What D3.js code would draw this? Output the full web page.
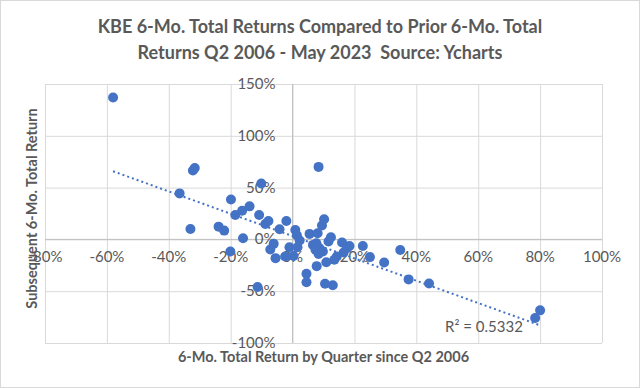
<!DOCTYPE html>
<html>
<head>
<meta charset="utf-8">
<script src="https://cdn.jsdelivr.net/npm/d3@7"></script>
<style>
  body { margin: 0; background: #fff; }
  text { font-family: Lato, "Open Sans", sans-serif; fill: #595959; white-space: pre; }
</style>
</head>
<body>
<svg id="chart" width="640" height="388"></svg>
<script>
// prior 6-month total return (%) -> subsequent 6-month total return (%)
const priorReturns = [
  -58, -32.2, -31.6, -36.5, -33, -19.9, -18.5, -16.3, -13.9, -10.1,
  -10.8, -8.8, -7.8, -2.0, -4.2, -23.9, -22.1, -16, -20.1, -7.2,
  -6.1, -5.5, -2.4, -1.0, -11.3,
  0.9, 1.4, 2.3, 1.6, 0.3, 5.5, 8.1, 9.5, 10.2, 8.4,
  6.6, 7.7, 8.7, 9.8, 7.4, 8.4, 11.6, 12.4, 16, 17.6,
  18.4, 22.7, 16.5, 14.3, 13.5, 10.9, 7.8, 4.5, 4.5, 10.5,
  13, 25, 29.6, 34.8, 37.5, 44.1, 80, 78.4
];
const nextReturns = [
  137, 66.5, 69, 44.4, 10, 38.5, 23.5, 27.7, 31.9, 54,
  23.6, 14.9, 17.8, 17.8, 9.8, 12.3, 8.5, 1.1, -11.7, -9.8,
  -4.3, -18.1, -16.5, -7.5, -46,
  9, 4, -1, -7.5, -16, 5.3, 6, 13.5, 19.4, 70,
  -5.3, -3.7, -8.5, -11.7, -10, -14, -2.1, 2.1, -3, -8.5,
  -6.3, -6.3, -12.7, -16.5, -19.7, -22, -25.8, -33.2, -41.3, -42.8,
  -44.3, -17.1, -22.3, -10.3, -38.6, -42.5, -68.5, -75.8
];
const xTicks = [-80, -60, -40, -20, 0, 20, 40, 60, 80, 100];
const yTicks = [-100, -50, 0, 50, 100, 150];
const titleLines = [
  "KBE 6-Mo. Total Returns Compared to Prior 6-Mo. Total",
  "Returns Q2 2006 - May 2023  Source: Ycharts"
];
const rSquaredLabel = "R² = 0.5332";

const points = priorReturns.map((x, i) => ({ x, y: nextReturns[i] }));

const svg = d3.select("#chart");
const width = 640, height = 388;
const plot = { left: 45, right: 602, top: 84, bottom: 343 };

const x = d3.scaleLinear().domain([-80, 100]).range([plot.left, plot.right]);
const y = d3.scaleLinear().domain([-100, 150]).range([plot.bottom, plot.top]);

// chart area border
svg.append("rect")
  .attr("x", 0.5).attr("y", 0.5)
  .attr("width", width - 1).attr("height", height - 1)
  .attr("fill", "#fff").attr("stroke", "#d9d9d9");

// gridlines
svg.append("g")
  .attr("transform", `translate(0,${plot.bottom})`)
  .call(d3.axisBottom(x).tickValues(xTicks).tickSize(-(plot.bottom - plot.top)).tickFormat(""))
  .call(g => g.select(".domain").remove())
  .call(g => g.selectAll("line").attr("stroke", "#d9d9d9"));
svg.append("g")
  .attr("transform", `translate(${plot.left},0)`)
  .call(d3.axisLeft(y).tickValues(yTicks).tickSize(-(plot.right - plot.left)).tickFormat(""))
  .call(g => g.select(".domain").remove())
  .call(g => g.selectAll("line").attr("stroke", "#d9d9d9"));

// axes crossing at zero
svg.append("line")
  .attr("x1", plot.left).attr("x2", plot.right)
  .attr("y1", y(0)).attr("y2", y(0))
  .attr("stroke", "#bfbfbf");
svg.append("line")
  .attr("x1", x(0)).attr("x2", x(0))
  .attr("y1", plot.top).attr("y2", plot.bottom)
  .attr("stroke", "#bfbfbf");

// tick labels
const pct = d => `${d}%`;
svg.append("g").selectAll("text")
  .data(xTicks)
  .join("text")
  .attr("x", d => x(d))
  .attr("y", y(0) + 23)
  .attr("text-anchor", "middle")
  .attr("font-size", 15)
  .text(pct);
svg.append("g").selectAll("text")
  .data(yTicks)
  .join("text")
  .attr("x", x(0) - 17)
  .attr("y", d => y(d) + 5)
  .attr("text-anchor", "end")
  .attr("font-size", 15)
  .text(pct);

// linear trendline (least squares)
const mx = d3.mean(points, d => d.x);
const my = d3.mean(points, d => d.y);
const slope = d3.sum(points, d => (d.x - mx) * (d.y - my)) / d3.sum(points, d => (d.x - mx) ** 2);
const intercept = my - slope * mx;
const [x0, x1] = d3.extent(points, d => d.x);
svg.append("line")
  .attr("x1", x(x0)).attr("y1", y(intercept + slope * x0))
  .attr("x2", x(x1)).attr("y2", y(intercept + slope * x1))
  .attr("stroke", "#4472c4")
  .attr("stroke-width", 2)
  .attr("stroke-dasharray", "2,3");

// points
svg.append("g").selectAll("circle")
  .data(points)
  .join("circle")
  .attr("cx", d => x(d.x))
  .attr("cy", d => y(d.y))
  .attr("r", 5)
  .attr("fill", "#4472c4");

svg.append("text")
  .attr("x", 445).attr("y", 332)
  .attr("font-size", 15)
  .text(rSquaredLabel);

// titles
svg.append("g").selectAll("text")
  .data(titleLines)
  .join("text")
  .attr("x", 320)
  .attr("y", (d, i) => 33 + i * 26)
  .attr("text-anchor", "middle")
  .attr("font-size", 18)
  .attr("font-weight", "bold")
  .text(d => d);

svg.append("text")
  .attr("x", (plot.left + plot.right) / 2)
  .attr("y", 362)
  .attr("text-anchor", "middle")
  .attr("font-size", 14.5)
  .attr("font-weight", "bold")
  .text("6-Mo. Total Return by Quarter since Q2 2006");

svg.append("text")
  .attr("transform", `translate(37,${(plot.top + plot.bottom) / 2 - 5}) rotate(-90)`)
  .attr("text-anchor", "middle")
  .attr("font-size", 14.5)
  .attr("font-weight", "bold")
  .text("Subsequent 6-Mo. Total Return");
</script>
</body>
</html>
